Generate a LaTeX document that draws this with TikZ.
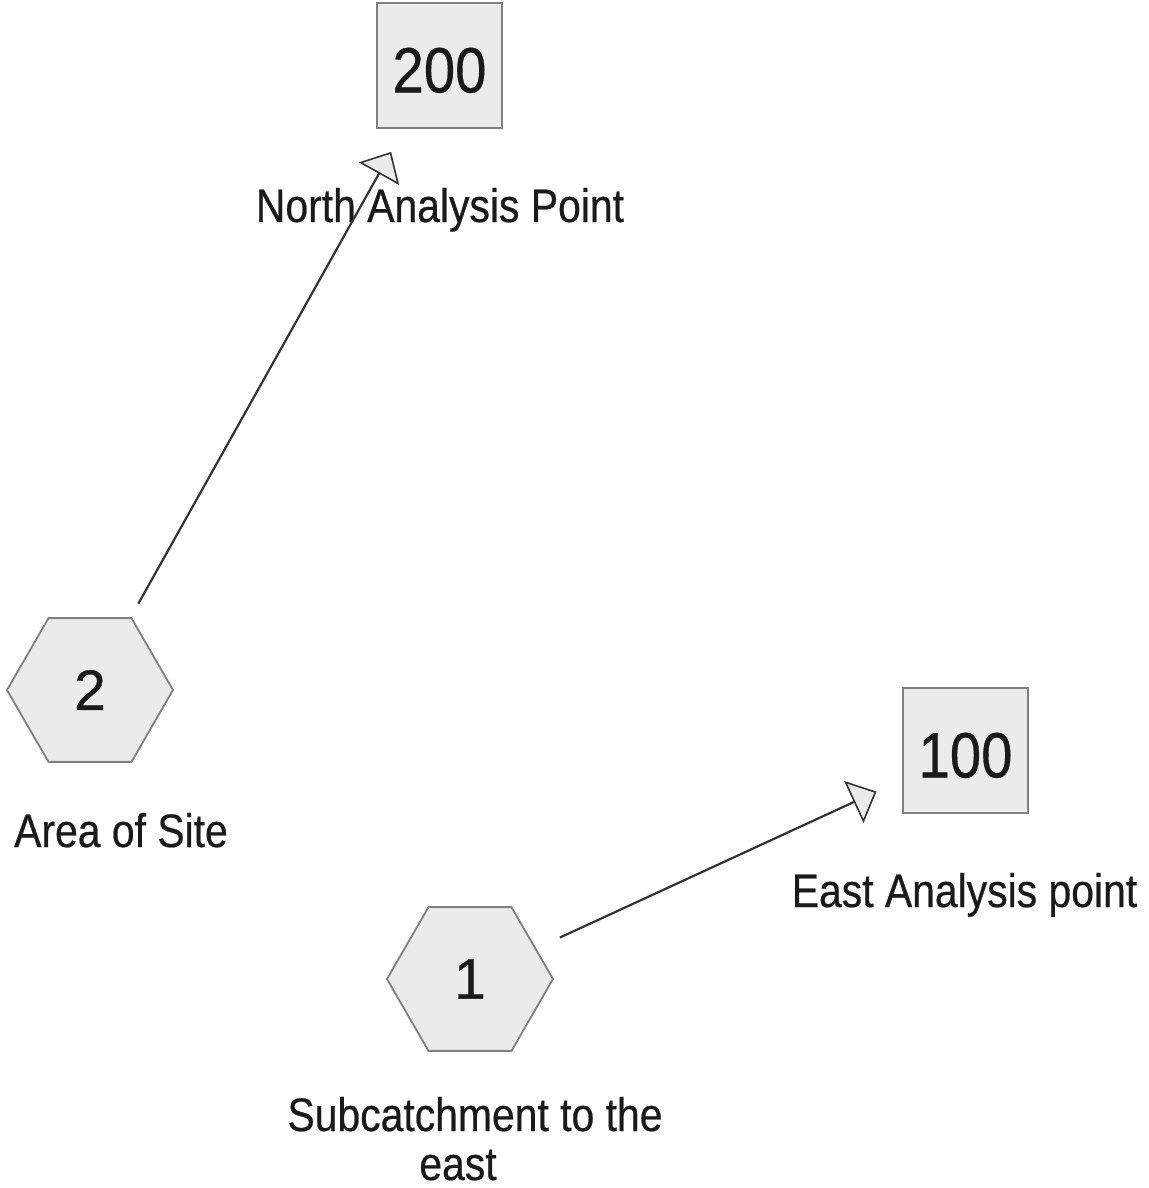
\documentclass[tikz,border=0pt]{standalone}
\usepackage{fontspec}
\setmainfont{Liberation Sans}
\newfontfamily\labelfont[FakeStretch=0.87,FakeBold=0.5]{Liberation Sans}
\newfontfamily\sqfont[FakeStretch=0.88,FakeBold=0.5]{Liberation Sans}
\newfontfamily\hexfont[FakeBold=0.5]{Liberation Sans}
\usetikzlibrary{shapes.geometric,arrows.meta,calc}
\definecolor{boxfill}{HTML}{EBEBEB}
\definecolor{boxline}{HTML}{808080}
\definecolor{conline}{HTML}{333333}
\definecolor{txt}{HTML}{1A1A1A}
\tikzset{
  sqbox/.style={rectangle, draw=boxline, fill=boxfill, line width=1.8pt,
    minimum size=125pt, inner sep=0pt, outer sep=0pt, text=txt,
    text height=53.8pt, text depth=0pt,
    font=\sqfont\fontsize{64}{64}\selectfont},
  hexbox/.style={regular polygon, regular polygon sides=6, draw=boxline,
    fill=boxfill, line width=1.8pt, minimum size=166pt, inner sep=0pt,
    outer sep=0pt, text=txt, font=\hexfont\fontsize{57}{57}\selectfont},
  lbl/.style={text=txt, inner sep=0pt, font=\labelfont\fontsize{47}{49}\selectfont},
  conn/.style={draw=conline, line width=2.2pt,
    -{Triangle[open, length=25pt, width=46pt, line width=1.6pt, fill=boxfill]}},
}
\begin{document}
\begin{tikzpicture}[x=1pt,y=-1pt]
\useasboundingbox (0,0) rectangle (1148,1188);
\fill[white] (0,0) rectangle (1148,1188);

\node[sqbox] (s200) at (439.5,65.5) {200};
\node[sqbox] (s100) at (965.5,750.5) {100};
\node[hexbox] (h2) at (90,690) {2};
\node[hexbox] (h1) at (470,979) {1};

\node[lbl, anchor=base] (lnorth) at (440,222) {North Analysis Point};
\node[lbl, anchor=base] (larea) at (121,847) {Area of Site};
\node[lbl, anchor=base] (least) at (964.5,907) {East Analysis point};
\node[lbl, anchor=base, align=center] (lsub) at (475,1180) {Subcatchment to the\\east\hspace*{34pt}};

\draw[conn] ($(h2)!99pt!(s200)$) -- ($(s200)!99pt!(h2)$);
\draw[conn] ($(h1)!99pt!(s100)$) -- ($(s100)!98pt!(h1)$);
\end{tikzpicture}
\end{document}
